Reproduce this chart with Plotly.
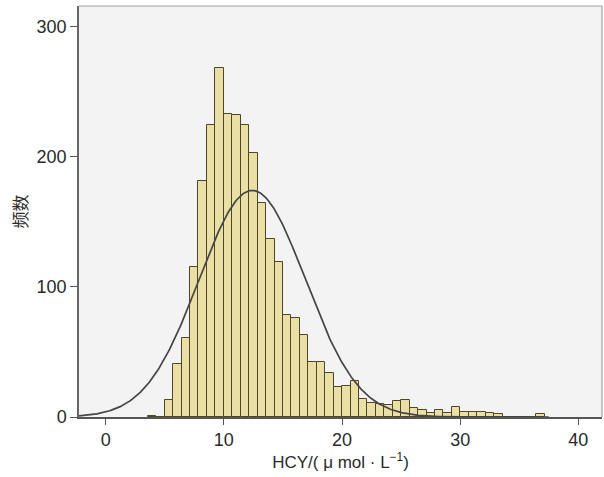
import numpy as np
import plotly.graph_objects as go

# Histogram data (HCY, μmol/L)
bin_start = 3.56        # left edge of first bin
bin_width = 0.715
counts = [1, 0,
          13, 41, 61, 115, 181, 224, 268, 233, 232, 224, 203, 164, 137, 119,
          78, 76, 63, 42, 42, 34, 23, 24, 28, 14,
          11, 10, 9, 12, 13, 7, 5, 3, 5, 3, 8, 4, 4, 4, 3, 2, 0, 0, 0, 0, 2]

# Normal curve parameters
curve_mean = 12.4
curve_sd = 4.5

x_ticks = [0, 10, 20, 30, 40]
y_ticks = [0, 100, 200, 300]

n_total = sum(counts)
centers = [bin_start + bin_width * (i + 0.5) for i in range(len(counts))]

xc = np.linspace(-2.26, 37.5, 400)
yc = n_total * bin_width / (curve_sd * np.sqrt(2 * np.pi)) * np.exp(-0.5 * ((xc - curve_mean) / curve_sd) ** 2)

fig = go.Figure()
fig.add_trace(go.Bar(
    x=centers, y=counts, width=bin_width,
    marker=dict(color="#eae0a6", line=dict(color="#4f4628", width=1)),
    showlegend=False, hoverinfo="x+y",
))
fig.add_trace(go.Scatter(
    x=xc, y=yc, mode="lines", line=dict(color="#454545", width=1.7),
    showlegend=False, hoverinfo="skip",
))

font_main = "Liberation Sans, Arial, sans-serif"
fig.update_layout(
    width=604, height=477,
    margin=dict(l=79, r=2, t=6, b=60),
    paper_bgcolor="white", plot_bgcolor="#f3f3f3",
    font=dict(family=font_main, size=18, color="#2a2a2a"),
    bargap=0,
    xaxis=dict(
        range=[-2.26, 42.0], tickvals=x_ticks, ticks="outside", ticklen=6,
        tickcolor="#555555", showgrid=False, zeroline=False, automargin=False,
        showline=True, linecolor="#555555", linewidth=1.5,
        title=dict(text="HCY/( μ mol · L<sup>−1</sup>)", standoff=0,
                   font=dict(family=font_main, size=17)),
        tickfont=dict(size=18),
    ),
    yaxis=dict(
        range=[0, 315.6], tickvals=y_ticks, ticks="outside", ticklen=7,
        tickcolor="#555555", showgrid=False, zeroline=False, automargin=False,
        showline=True, linecolor="#666666", linewidth=1.5,
        title=dict(text="频数", standoff=5,
                   font=dict(family="Noto Sans CJK SC", size=17)),
        tickfont=dict(size=18),
    ),
    shapes=[
        dict(type="line", xref="paper", yref="paper", x0=0, x1=1, y0=1, y1=1,
             line=dict(color="#a0a0a0", width=1.2)),
        dict(type="line", xref="paper", yref="paper", x0=1, x1=1, y0=0, y1=1,
             line=dict(color="#a0a0a0", width=1.2)),
    ],
)

fig.write_html(
    "out.html",
    config={"displayModeBar": False},
    post_script="document.body.style.margin='0';document.body.style.overflow='hidden';",
)
